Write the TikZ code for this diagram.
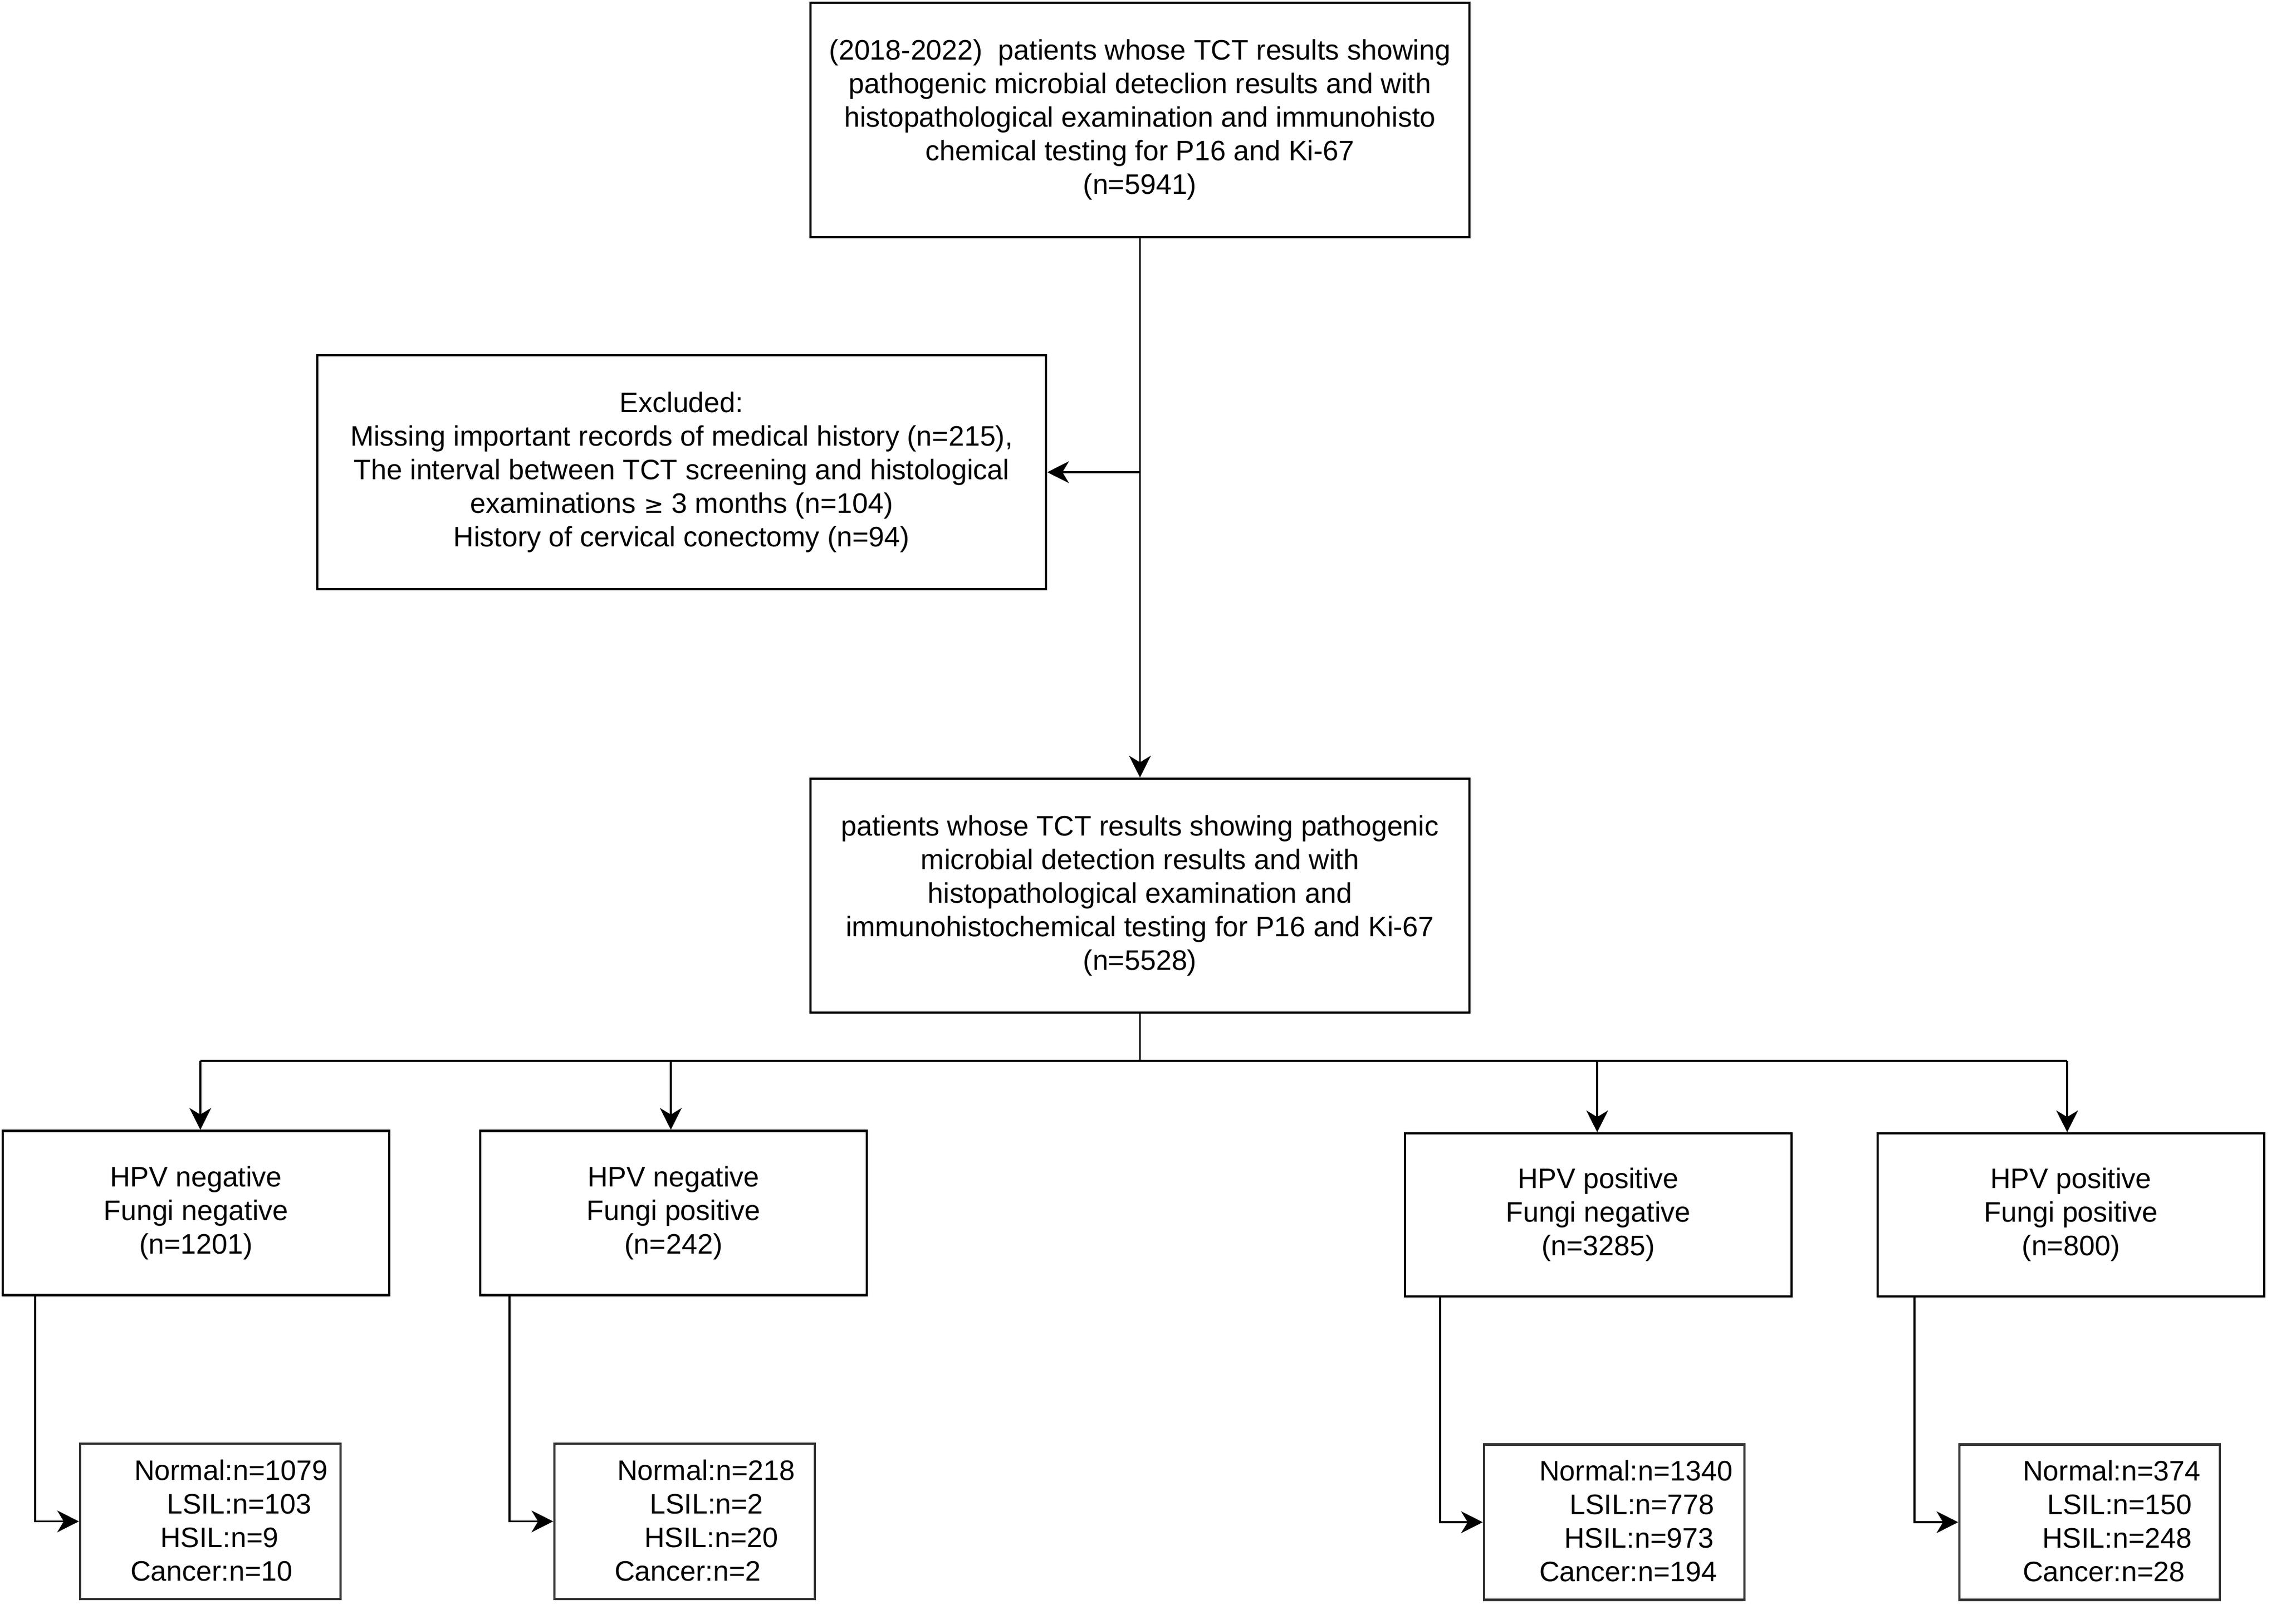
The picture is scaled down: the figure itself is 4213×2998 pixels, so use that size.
\documentclass[tikz,border=0pt]{standalone}
\usepackage{fontspec}
\setmainfont{Liberation Sans}
\usetikzlibrary{arrows.meta}
\begin{document}
\begin{tikzpicture}[x=1pt,y=-1pt,
  txt/.style={font=\fontsize{52}{62}\selectfont, text=black},
  box/.style={draw=black, line width=4.5pt, rectangle, inner sep=0pt, align=center, txt},
  sbox/.style={draw=black!80, line width=4.5pt, rectangle, inner sep=0pt},
  ltxt/.style={txt, align=left, inner sep=0pt, anchor=west},
  conn/.style={draw=black, line width=3.8pt},
  arr/.style={conn, -{Stealth[length=40pt,width=40pt,inset=12pt]}}]
\useasboundingbox (0,0) rectangle (4213,2998);
\fill[white] (0,0) rectangle (4213,2998);

\node[box, minimum width=1217pt, minimum height=433pt] (top) at (2105.5,221.5)
  {(2018-2022)\ \ patients whose TCT results showing\\
   pathogenic microbial deteclion results and with\\
   histopathological examination and immunohisto\\
   chemical testing for P16 and Ki-67\\
   (n=5941)};

\node[box, minimum width=1346pt, minimum height=432pt] (excl) at (1259,872)
  {Excluded:\\
   Missing important records of medical history (n=215),\\
   The interval between TCT screening and histological\\
   examinations {\fontspec{DejaVu Sans}\fontsize{44}{62}\selectfont ≥} 3 months (n=104)\\
   History of cervical conectomy (n=94)};

\node[box, minimum width=1217pt, minimum height=432pt] (mid) at (2105.5,1654)
  {patients whose TCT results showing pathogenic\\
   microbial detection results and with\\
   histopathological examination and\\
   immunohistochemical testing for P16 and Ki-67\\
   (n=5528)};

\node[box, minimum width=714pt, minimum height=303pt] (b1) at (362,2240)
  {HPV negative\\Fungi negative\\(n=1201)};
\node[box, minimum width=714pt, minimum height=303pt] (b2) at (1244,2240)
  {HPV negative\\Fungi positive\\(n=242)};
\node[box, minimum width=714pt, minimum height=301pt] (b3) at (2952,2243.5)
  {HPV positive\\Fungi negative\\(n=3285)};
\node[box, minimum width=714pt, minimum height=301pt] (b4) at (3825,2243.5)
  {HPV positive\\Fungi positive\\(n=800)};

\node[sbox, minimum width=481pt, minimum height=287pt] (c1) at (388.5,2809.5) {};
\node[sbox, minimum width=481pt, minimum height=287pt] (c2) at (1264.5,2809.5) {};
\node[sbox, minimum width=481pt, minimum height=287pt] (c3) at (2981.5,2811) {};
\node[sbox, minimum width=481pt, minimum height=287pt] (c4) at (3859.5,2811) {};

\node[ltxt] (t1) at (241,2808)
  {\hspace*{7pt}Normal:n=1079\\\hspace*{67pt}LSIL:n=103\\\hspace*{55pt}HSIL:n=9\\Cancer:n=10};
\node[ltxt] (t2) at (1135,2808)
  {\hspace*{5pt}Normal:n=218\\\hspace*{65pt}LSIL:n=2\\\hspace*{55pt}HSIL:n=20\\Cancer:n=2};
\node[ltxt] (t3) at (2843,2809)
  {Normal:n=1340\\\hspace*{56pt}LSIL:n=778\\\hspace*{46pt}HSIL:n=973\\Cancer:n=194};
\node[ltxt] (t4) at (3736,2809)
  {Normal:n=374\\\hspace*{45pt}LSIL:n=150\\\hspace*{36pt}HSIL:n=248\\Cancer:n=28};

% main trunk
\draw[arr] (top.south) -- (mid.north);
\coordinate (j) at (top.south |- excl.east);
\draw[arr] (j) -- (excl.east);

% branch
\coordinate (br) at (2105.5,1959);
\coordinate (br1) at (370,1959);
\coordinate (br2) at (1239,1959);
\coordinate (br3) at (2950,1959);
\coordinate (br4) at (3818,1959);
\draw[conn] (mid.south) -- (br);
\draw[conn] (br1) -- (br4);
\draw[arr] (br1) -- (br1 |- b1.north);
\draw[arr] (br2) -- (br2 |- b2.north);
\draw[arr] (br3) -- (br3 |- b3.north);
\draw[arr] (br4) -- (br4 |- b4.north);

% to children
\coordinate (s1) at ([xshift=62pt]b1.south west);
\coordinate (s2) at ([xshift=56pt]b2.south west);
\coordinate (s3) at ([xshift=67pt]b3.south west);
\coordinate (s4) at ([xshift=70pt]b4.south west);
\draw[arr] (s1) |- (c1.west);
\draw[arr] (s2) |- (c2.west);
\draw[arr] (s3) |- (c3.west);
\draw[arr] (s4) |- (c4.west);
\end{tikzpicture}
\end{document}
